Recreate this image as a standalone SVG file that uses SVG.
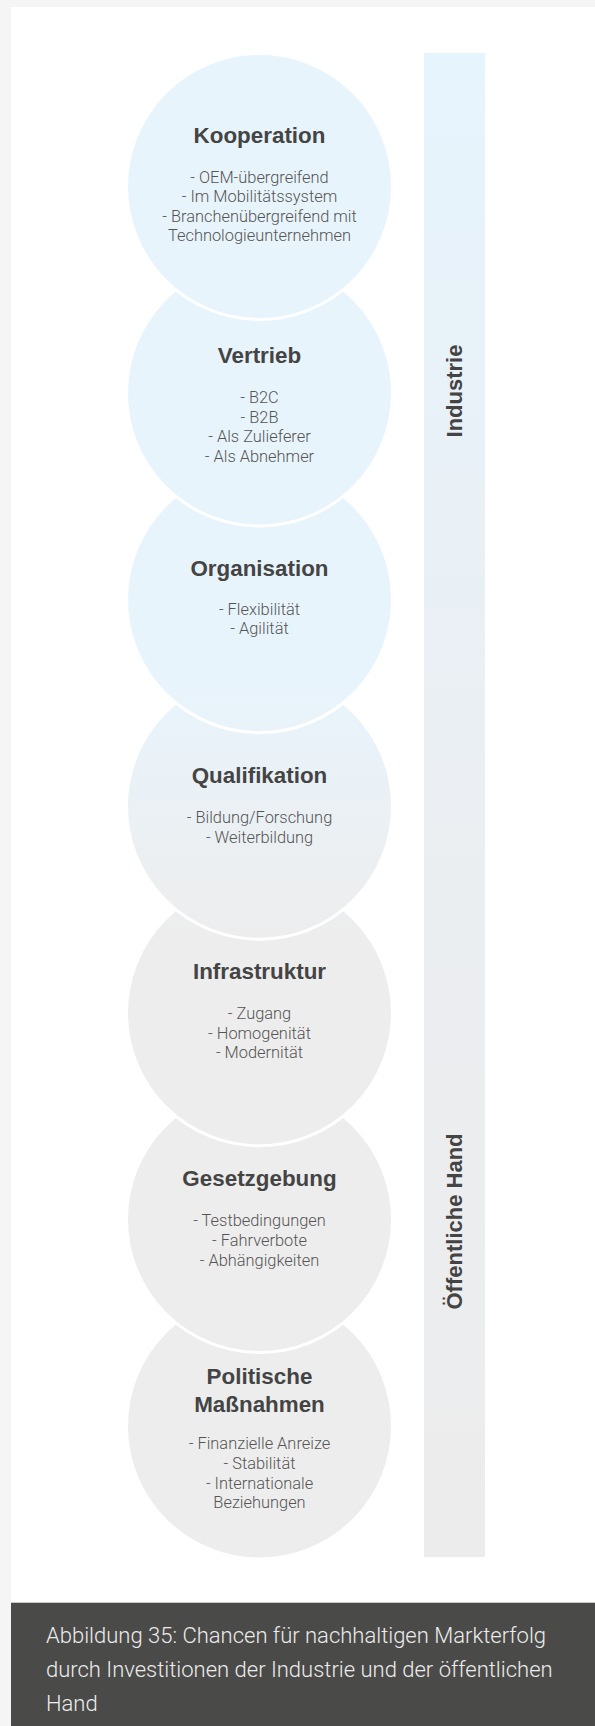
<svg xmlns="http://www.w3.org/2000/svg" width="595" height="1726" viewBox="0 0 595 1726">
<defs>
<linearGradient id="cg" gradientUnits="userSpaceOnUse" x1="0" y1="680" x2="0" y2="940">
<stop offset="0" stop-color="#e8f4fc"/>
<stop offset="1" stop-color="#ededed"/>
</linearGradient>
<linearGradient id="bg" gradientUnits="userSpaceOnUse" x1="0" y1="53" x2="0" y2="1557">
<stop offset="0" stop-color="#e6f4fd"/>
<stop offset="0.55" stop-color="#ebeef1"/>
<stop offset="1" stop-color="#ececec"/>
</linearGradient>
<style>
.c{fill:url(#cg);stroke:#ffffff;stroke-width:3}
.t{font-family:"Liberation Sans",Arial,sans-serif;font-weight:bold;font-size:22.4px;fill:#444444;text-anchor:middle}
.b{font-family:Roboto,"Liberation Sans",sans-serif;font-weight:300;font-size:16.4px;fill:#555555;text-anchor:middle}
.v{font-family:"Liberation Sans",Arial,sans-serif;font-weight:bold;font-size:22px;fill:#444444;text-anchor:middle}
.cap{font-family:Roboto,"Liberation Sans",sans-serif;font-weight:300;font-size:22px;fill:#ececec}
</style>
</defs>
<rect x="0" y="0" width="595" height="1726" fill="#f5f5f5"/>
<rect x="11" y="7" width="584" height="1719" fill="#ffffff"/>
<g id="bar">
<rect x="424" y="53" width="61" height="1504" fill="url(#bg)"/>
<text class="v" transform="translate(462,391) rotate(-90)">Industrie</text>
<text class="v" transform="translate(462,1221.5) rotate(-90)">Öffentliche Hand</text>
</g>
<g id="connectors"></g>
<g id="n7">
<circle class="c" cx="259.5" cy="1426" r="133"/>
<text class="t" x="259.5" y="1384.3">Politische</text>
<text class="t" x="259.5" y="1411.7">Maßnahmen</text>
<text class="b" x="259.5" y="1449.3">- Finanzielle Anreize</text>
<text class="b" x="259.5" y="1469.3">- Stabilität</text>
<text class="b" x="259.5" y="1489.3">- Internationale</text>
<text class="b" x="259.5" y="1508.3">Beziehungen</text>
</g>
<g id="n6">
<circle class="c" cx="259.5" cy="1219.4" r="133"/>
<text class="t" x="259.5" y="1186">Gesetzgebung</text>
<text class="b" x="259.5" y="1226">- Testbedingungen</text>
<text class="b" x="259.5" y="1246">- Fahrverbote</text>
<text class="b" x="259.5" y="1265.7">- Abhängigkeiten</text>
</g>
<g id="n5">
<circle class="c" cx="259.5" cy="1012.8" r="133"/>
<text class="t" x="259.5" y="979">Infrastruktur</text>
<text class="b" x="259.5" y="1019">- Zugang</text>
<text class="b" x="259.5" y="1038.5">- Homogenität</text>
<text class="b" x="259.5" y="1058">- Modernität</text>
</g>
<g id="n4">
<circle class="c" cx="259.5" cy="806.2" r="133"/>
<text class="t" x="259.5" y="783.3">Qualifikation</text>
<text class="b" x="259.5" y="823.3">- Bildung/Forschung</text>
<text class="b" x="259.5" y="842.7">- Weiterbildung</text>
</g>
<g id="n3">
<circle class="c" cx="259.5" cy="599.6" r="133"/>
<text class="t" x="259.5" y="576">Organisation</text>
<text class="b" x="259.5" y="615">- Flexibilität</text>
<text class="b" x="259.5" y="634.3">- Agilität</text>
</g>
<g id="n2">
<circle class="c" cx="259.5" cy="393" r="133"/>
<text class="t" x="259.5" y="363.3">Vertrieb</text>
<text class="b" x="259.5" y="403.3">- B2C</text>
<text class="b" x="259.5" y="422.7">- B2B</text>
<text class="b" x="259.5" y="441.7">- Als Zulieferer</text>
<text class="b" x="259.5" y="461.7">- Als Abnehmer</text>
</g>
<g id="n1">
<circle class="c" cx="259.5" cy="186.4" r="133"/>
<text class="t" x="259.5" y="143">Kooperation</text>
<text class="b" x="259.5" y="182.7">- OEM-übergreifend</text>
<text class="b" x="259.5" y="201.7">- Im Mobilitätssystem</text>
<text class="b" x="259.5" y="221.7">- Branchenübergreifend mit</text>
<text class="b" x="259.5" y="240.7">Technologieunternehmen</text>
</g>
<g id="caption">
<rect x="11" y="1602.7" width="584" height="123.3" fill="#4a4a48"/>
<text class="cap" x="46" y="1642.7">Abbildung 35: Chancen für nachhaltigen Markterfolg</text>
<text class="cap" x="46" y="1676.7">durch Investitionen der Industrie und der öffentlichen</text>
<text class="cap" x="46" y="1710.7">Hand</text>
</g>
</svg>
